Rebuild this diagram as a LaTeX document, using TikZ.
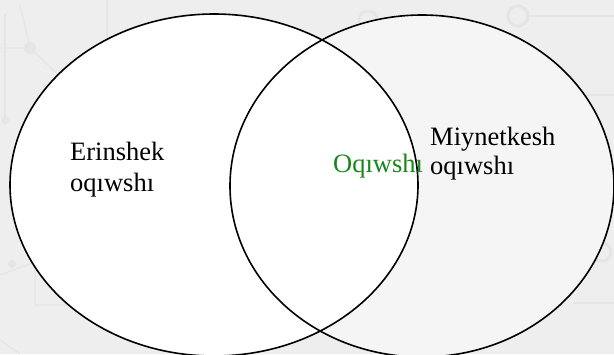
\documentclass[tikz,border=0pt]{standalone}
\usepackage{fontspec}
\setmainfont{Liberation Serif}
\definecolor{bggray}{HTML}{EEEEEE}
\definecolor{patgray}{HTML}{E5E5E5}
\definecolor{rightfill}{HTML}{F5F5F5}
\definecolor{labelgreen}{RGB}{25,135,25}
\tikzset{
  setlabel/.style={anchor=base west,inner sep=0pt,font=\fontsize{26.5}{30}\selectfont},
  setline/.style={draw=black,line width=1.6pt},
  pattern line/.style={draw=patgray,line width=1.2pt},
}
\begin{document}
\begin{tikzpicture}[x=1pt,y=-1pt]
\useasboundingbox (0,0) rectangle (614,354);
\begin{scope}
\clip (0,0) rectangle (614,354);
\fill[bggray] (0,0) rectangle (614,354);
% faint circuit pattern in background
\draw[pattern line] (5,14) -- (5,120);
\draw[pattern line] (0,48) -- (30,48) -- (85,100);
\draw[pattern line] (20,5) -- (30,48);
\fill[patgray] (30,48) circle (6);
\fill[patgray] (5,120) circle (4);
\draw[pattern line] (107,0) -- (107,60);
\draw[pattern line] (0,275) -- (35,262) -- (35,305) -- (90,305);
\fill[patgray] (12,264) circle (4);
\draw[pattern line] (0,340) -- (20,354);
\draw[pattern line] (530,16) -- (614,16);
\draw[patgray,line width=3pt] (518,16) circle (10);
\draw[pattern line] (552,95) -- (614,95);
\fill[patgray] (545,95) circle (6);
\draw[patgray,line width=3pt] (602,252) circle (9);
\draw[pattern line] (573,303) -- (614,303);
\draw[patgray,line width=2.5pt] (368,20) circle (9);
% the two sets
\fill[rightfill] (422,186) ellipse [x radius=192,y radius=171];
\fill[white] (214,185) ellipse [x radius=204,y radius=171];
\draw[setline] (214,185) ellipse [x radius=204,y radius=171];
\draw[setline] (422,186) ellipse [x radius=192,y radius=171];
\end{scope}
\node[setlabel] (leftA) at (70,160.7) {Erinshek};
\node[setlabel] (leftB) at (70,191.7) {oqıwshı};
\node[setlabel] (rightA) at (430,145) {Miynetkesh};
\node[setlabel] (rightB) at (430,174) {oqıwshı};
\node[setlabel,text=labelgreen] (mid) at (333,172) {Oqıwshı};
\end{tikzpicture}
\end{document}
